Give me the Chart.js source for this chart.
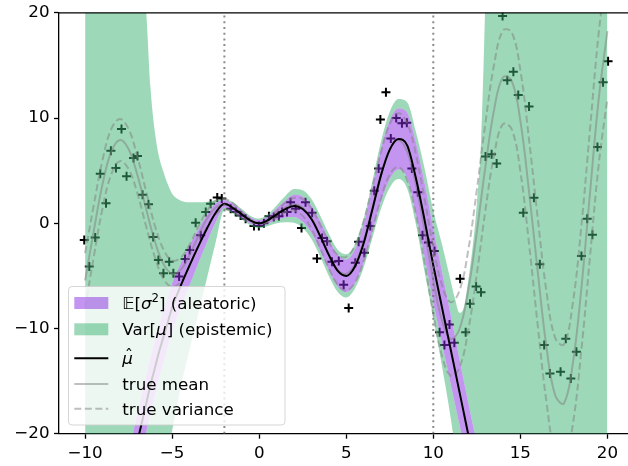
<!DOCTYPE html>
<html>
<head>
<meta charset="utf-8">
<script src="https://cdn.jsdelivr.net/npm/chart.js@4.4.1/dist/chart.umd.min.js"></script>
<style>
  html, body { margin: 0; padding: 0; overflow: hidden; background: #fff; }
  canvas { display: block; }
</style>
</head>
<body>
<canvas id="chart" width="640" height="466"></canvas>
<script>
// ---- data ----
const xTicks = [-10, -5, 0, 5, 10, 15, 20];
const yTicks = [-20, -10, 0, 10, 20];
const trainRange = [-2, 10];

// model grid
const xs = [-10, -9.5, -9, -8.5, -8, -7.5, -7, -6.75, -6.5, -6.25, -6, -5.75, -5.5, -5.25, -5,
  -4.5, -4, -3.5, -3, -2.5, -2, -1.5, -1, -0.5, 0, 0.5, 1, 1.5, 2, 2.5, 3, 3.5, 4, 4.5, 5,
  5.5, 6, 6.5, 7, 7.5, 8, 8.5, 9, 9.5, 10, 10.5, 11, 11.25, 11.5, 11.75, 12, 12.25, 12.5, 12.75, 13,
  13.5, 14, 14.5, 15, 15.5, 16, 16.5, 17, 17.5, 18, 18.5, 19, 19.5, 20];
const muHat = [-45, -41, -37, -33, -29, -25, -20.8, -19.0, -17.2, -15.4, -13.8, -12.2, -10.8, -9.4, -8.0,
  -5.9, -4.0, -2.2, -0.5, 1.0, 1.85, 1.45, 0.85, 0.25, 0, 0.3, 0.85, 1.35, 1.65, 1.35, 0.4, -1.2, -3.0, -4.5, -5.0,
  -4.1, -1.9, 1.3, 4.6, 7.0, 8.0, 7.4, 4.3, 0.3, -4.0, -8.0, -12.0, -14.0, -16.0, -18.0, -20.0, -22, -24, -26, -28,
  -32, -36, -40, -44, -48, -52, -56, -60, -64, -68, -72, -76, -80, -84];
const aleaHalf = [3.2, 3.1, 3.0, 2.95, 2.9, 2.85, 2.8, 2.75, 2.7, 2.65, 2.6, 2.55, 2.5, 2.4, 2.3,
  2.1, 1.9, 1.6, 1.3, 0.9, 0.35, 0.4, 0.35, 0.3, 0.3, 0.35, 0.55, 0.8, 1.05, 1.2, 1.3, 1.4, 1.45, 1.5, 1.55,
  1.6, 1.8, 2.1, 2.5, 2.8, 2.9, 3.1, 3.4, 3.5, 3.5, 3.4, 3.3, 3.2, 3.1, 3.0, 3.0, 3.0, 3.0, 3.0, 3.0,
  3.1, 3.2, 3.3, 3.4, 3.5, 3.6, 3.7, 3.8, 3.9, 4.0, 4.1, 4.2, 4.3, 4.4];
const epiUpper = [150, 120, 95, 72, 55, 40, 28, 23.5, 20.3, 13.0, 8.8, 6.3, 4.9, 3.7, 2.8,
  2.15, 2.0, 2.0, 2.05, 2.2, 2.25, 2.0, 1.35, 0.7, 0.45, 0.85, 1.7, 2.6, 3.25, 3.15, 2.3, 0.75, -1.0, -2.5, -2.95,
  -2.0, 0.4, 4.0, 7.8, 10.6, 11.8, 11.5, 8.7, 5.2, 1.2, -2.0, -5.5, -7.2, -8.5, -8.0, -5.5, -2.4, 1.8, 8.0, 22,
  60, 100, 140, 180, 220, 260, 300, 340, 380, 420, 460, 500, 540, 580];
const epiLower = [-150, -130, -110, -95, -80, -65, -52, -45, -39, -33, -29, -26, -23.5, -21.5, -19.7,
  -15.5, -12.0, -8.6, -5.2, -1.8, 1.25, 0.9, 0.35, -0.2, -0.45, -0.25, 0.0, 0.1, 0.05, -0.45, -1.5, -3.15, -5.0, -6.5, -7.05,
  -6.2, -4.2, -1.4, 1.4, 3.4, 4.2, 3.3, -0.1, -4.6, -9.0, -13.6, -18.5, -21.5, -25, -29, -34, -40, -48, -58, -75,
  -110, -150, -190, -230, -270, -310, -350, -390, -430, -470, -510, -550, -590, -630];

// ground truth
const truthX = [-10, -9.5, -9, -8.5, -8, -7.5, -7, -6.5, -6, -5.5, -5, -4.5, -4, -3.5, -3, -2.5, -2, -1.5, -1, -0.5, 0,
  0.5, 1, 1.5, 2, 2.5, 3, 3.5, 4, 4.5, 5, 5.5, 6, 6.5, 7, 7.5, 8, 8.5, 9, 9.5, 10,
  10.5, 11, 11.5, 12, 12.5, 13, 13.5, 14, 14.5, 15, 15.5, 16, 16.5, 17, 17.5, 18, 18.5, 19, 19.5, 20];
const trueMean = [-5.44, -0.71, 3.71, 6.79, 7.91, 7.04, 4.60, 1.40, -1.68, -3.88, -4.79, -4.40, -3.03, -1.23, 0.42, 1.50, 1.82, 1.50, 0.84, 0.24, 0,
  0.24, 0.84, 1.50, 1.82, 1.50, 0.42, -1.23, -3.03, -4.40, -4.79, -3.88, -1.68, 1.40, 4.60, 7.04, 7.91, 6.79, 3.71, -0.71, -5.44,
  -9.24, -11.00, -10.07, -6.44, -0.83, 5.46, 10.85, 13.87, 13.56, 9.75, 3.00, -4.61, -11.74, -16.34, -17.12, -13.52, -6.26, 2.85, 11.81, 18.26];
const trueSpread = [2.6, 2.45, 2.3, 2.15, 2.0, 1.9, 1.75, 1.65, 1.5, 1.4, 1.25, 1.15, 1.0, 0.9, 0.75, 0.65, 0.5, 0.4, 0.25, 0.15, 0,
  0.15, 0.3, 0.45, 0.6, 0.8, 0.95, 1.1, 1.25, 1.4, 1.6, 1.75, 1.9, 2.05, 2.2, 2.4, 2.55, 2.7, 2.85, 3.0, 3.2,
  3.35, 3.5, 3.65, 3.8, 4.0, 4.15, 4.3, 4.45, 4.6, 4.8, 4.95, 5.1, 5.25, 5.45, 5.6, 5.75, 5.9, 6.05, 6.25, 6.4];

// observations
const ptsX = [-10.05, -9.76, -9.42, -9.13, -8.8, -8.52, -8.23, -7.91, -7.62, -7.22, -6.99, -6.7, -6.36, -6.09, -5.79, -5.5,
  -5.17, -4.93, -4.6, -4.26, -3.99, -3.65, -3.36, -3.07, -2.79, -2.41, -2.15, -1.64, -1.35, -1.07, -0.78, -0.3, -0.02,
  0.27, 0.56, 0.84, 1.13, 1.32, 1.6, 1.8, 2.09, 2.43, 2.66, 3.04, 3.32, 3.61, 3.9, 4.18, 4.57, 4.85, 5.14, 5.52, 5.71,
  6.04, 6.38, 6.61, 6.86, 6.96, 7.28, 7.56, 7.87, 8.2, 8.48, 8.77, 9.11, 9.38, 9.72, 10.07, 10.36, 10.64, 10.93, 11.21,
  11.54, 11.86, 12.11, 12.46, 12.74, 13.0, 13.35, 13.64, 13.98, 14.25, 14.6, 14.88, 15.17, 15.5, 15.78, 16.12, 16.37,
  16.7, 17.31, 17.61, 17.9, 18.22, 18.51, 18.84, 19.14, 19.43, 19.75, 20.04];
const ptsY = [-1.6, -4.1, -1.36, 4.7, 1.9, 6.9, 5.25, 8.96, 4.46, 6.2, 6.4, 2.7, 1.8, -1.3, -3.5, -4.75,
  -3.65, -4.75, -5.07, -3.4, -2.55, 0.06, -1.13, 1.07, 1.85, 2.45, 2.35, 1.38, 1.07, 0.75, 0.43, -0.25, -0.25,
  0.0, 0.66, 0.6, 0.66, 1.07, 1.07, 2.0, 1.38, -0.44, 2.0, 1.0, -3.34, -1.39, -1.7, -3.65, -3.58, -5.85, -8.05, -3.75, -1.76,
  -2.8, -0.25, 3.1, 5.2, 9.87, 12.45, 8.05, 10.0, 9.5, 9.56, 5.2, 2.95, -1.13, -1.83, -2.64, -10.35, -11.58, -9.62, -11.36,
  -5.28, -10.35, -7.64, -6.0, -6.55, 6.35, 6.57, 5.69, 19.7, 13.6, 14.4, 12.2, 1.0, 11.1, 2.42, -3.9, -11.58,
  -14.28, -14.12, -10.98, -14.75, -12.2, -3.1, 0.43, -1.08, 7.26, 13.4, 15.4];

// ---- styles ----
const FONT = '"DejaVu Sans"';
const FS = 16.7;
const aleaColor = 'rgba(138,43,226,0.5)';
const epiColor = 'rgba(60,179,113,0.5)';
const truthColor = 'rgba(128,128,128,0.5)';
const dashPattern = [7, 3.5];

const xy = (xv, yv) => xv.map((x, i) => ({ x, y: yv[i] }));
const aleaUp = muHat.map((m, i) => m + aleaHalf[i]);
const aleaLo = muHat.map((m, i) => m - aleaHalf[i]);
const varUp = trueMean.map((m, i) => m + trueSpread[i]);
const varLo = trueMean.map((m, i) => m - trueSpread[i]);
const fmt = v => (v < 0 ? '\u2212' + Math.abs(v) : String(v));

function band(data, fill, color, order) {
  return {
    data, fill, backgroundColor: color, borderColor: 'transparent', borderWidth: 0,
    pointRadius: 0, cubicInterpolationMode: 'monotone', order
  };
}
function line(data, color, width, dash, order, mono) {
  return {
    data, fill: false, borderColor: color, borderWidth: width, borderDash: dash,
    pointRadius: 0, tension: 0.4, cubicInterpolationMode: mono ? 'monotone' : 'default', order
  };
}

const datasets = [
  { data: xy(ptsX, ptsY), showLine: false, pointStyle: 'cross', pointRadius: 4.5,
    pointBorderWidth: 2, pointBorderColor: '#000', order: 10 },          // 0
  band(xy(xs, epiUpper), 2, epiColor, 8),                               // 1
  band(xy(xs, aleaUp), 3, aleaColor, 7),                                // 2
  band(xy(xs, aleaLo), false, 'transparent', 7),                        // 3
  band(xy(xs, epiLower), 3, epiColor, 8),                               // 4
  line(xy(truthX, varUp), truthColor, 2, dashPattern, 5),               // 5
  line(xy(truthX, varLo), truthColor, 2, dashPattern, 5),               // 6
  line(xy(truthX, trueMean), truthColor, 2, [], 5),                     // 7
  line(xy(xs, muHat), '#000', 2, [], 3, true),                          // 8
];
trainRange.forEach(v => {
  datasets.push({
    data: [{ x: v, y: yTicks[0] }, { x: v, y: yTicks[yTicks.length - 1] }],
    borderColor: 'rgba(110,110,110,0.8)', borderWidth: 2, borderDash: [2, 3.7],
    borderCapStyle: 'butt', pointRadius: 0, fill: false, order: 2
  });
});

const legendRows = [
  { kind: 'patch', color: aleaColor, cy: 303,
    parts: [{ t: '\u{1D53C}' }, { t: '[' }, { t: '\u03C3', it: true }, { t: '2', sup: true }, { t: '] (aleatoric)' }] },
  { kind: 'patch', color: epiColor, cy: 329.3,
    parts: [{ t: 'Var[' }, { t: '\u03BC', it: true }, { t: '] (epistemic)' }] },
  { kind: 'line', color: '#000', dash: [], cy: 358.3, parts: [{ t: '\u03BC', it: true, hat: true }] },
  { kind: 'line', color: truthColor, dash: [], cy: 384, parts: [{ t: 'true mean' }] },
  { kind: 'line', color: truthColor, dash: dashPattern, cy: 408.7, parts: [{ t: 'true variance' }] },
];

const framePlugin = {
  id: 'frame',
  afterDraw(chart) {
    const ctx = chart.ctx;
    const a = chart.chartArea;
    ctx.save();
    // top spine
    ctx.strokeStyle = '#000';
    ctx.lineWidth = 1.3;
    ctx.beginPath();
    ctx.moveTo(a.left - 0.65, a.top);
    ctx.lineTo(a.right, a.top);
    ctx.stroke();

    // legend
    ctx.beginPath();
    ctx.roundRect(68.5, 286.5, 216.5, 138.5, 3.5);
    ctx.fillStyle = 'rgba(255,255,255,0.8)';
    ctx.fill();
    ctx.strokeStyle = 'rgba(204,204,204,0.8)';
    ctx.lineWidth = 1;
    ctx.stroke();

    const hx0 = 74.3, hx1 = 108.3, tx = 122.3;
    legendRows.forEach(r => {
      if (r.kind === 'patch') {
        ctx.fillStyle = r.color;
        ctx.fillRect(hx0, r.cy - 6, hx1 - hx0, 12);
      } else {
        ctx.strokeStyle = r.color;
        ctx.lineWidth = 2;
        ctx.setLineDash(r.dash);
        ctx.beginPath();
        ctx.moveTo(hx0, r.cy);
        ctx.lineTo(hx1, r.cy);
        ctx.stroke();
        ctx.setLineDash([]);
      }
      let x = tx;
      const base = r.cy + 6;
      ctx.fillStyle = '#000';
      ctx.textBaseline = 'alphabetic';
      ctx.textAlign = 'left';
      r.parts.forEach(p => {
        const size = p.sup ? FS * 0.7 : FS;
        ctx.font = (p.it ? 'italic ' : '') + size + 'px ' + FONT;
        const y = p.sup ? base - FS * 0.42 : base;
        ctx.fillText(p.t, x, y);
        const w = ctx.measureText(p.t).width;
        if (p.hat) {
          ctx.font = FS + 'px ' + FONT;
          ctx.textAlign = 'center';
          ctx.fillText('\u02C6', x + w * 0.62, base - 3);
          ctx.textAlign = 'left';
        }
        x += w;
      });
    });
    ctx.restore();
  }
};

const tickFont = { family: 'DejaVu Sans', size: FS, lineHeight: 1 };

new Chart(document.getElementById('chart'), {
  type: 'line',
  data: { datasets },
  options: {
    responsive: false,
    animation: false,
    events: [],
    layout: { padding: { left: 0, right: 5, top: 9.5, bottom: 0 } },
    plugins: { legend: { display: false }, tooltip: { enabled: false } },
    scales: {
      x: {
        type: 'linear', min: -11.5, max: 21.5,
        afterBuildTicks: s => { s.ticks = xTicks.map(v => ({ value: v })); },
        afterFit: s => { s.height = 32.3; },
        grid: { drawOnChartArea: false, drawTicks: true, tickLength: 5, tickWidth: 1.3, tickColor: '#000' },
        border: { display: true, color: '#000', width: 1.3 },
        ticks: { color: '#000', font: tickFont, padding: 7, maxRotation: 0, autoSkip: false, callback: fmt }
      },
      y: {
        type: 'linear', min: -20, max: 20,
        afterBuildTicks: s => { s.ticks = yTicks.map(v => ({ value: v })); },
        afterFit: s => { s.width = 59; },
        grid: { drawOnChartArea: false, drawTicks: true, tickLength: 5, tickWidth: 1.3, tickColor: '#000' },
        border: { display: true, color: '#000', width: 1.3 },
        ticks: { color: '#000', font: tickFont, padding: 4.5, callback: fmt }
      }
    }
  },
  plugins: [framePlugin]
});
</script>
</body>
</html>
